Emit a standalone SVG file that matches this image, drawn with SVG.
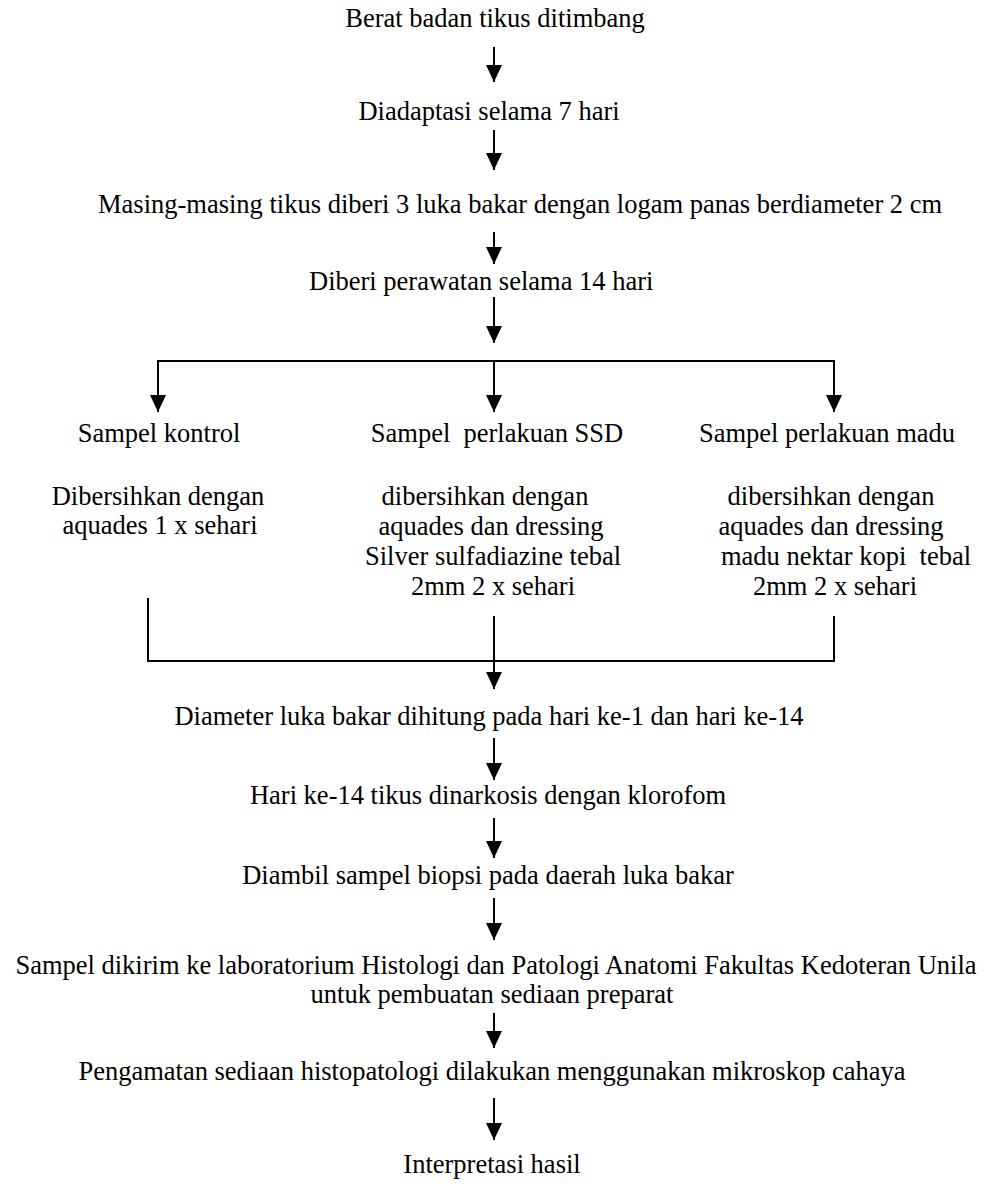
<svg xmlns="http://www.w3.org/2000/svg" width="987" height="1184" viewBox="0 0 987 1184">
<style>
text{font-family:"Liberation Serif","Times New Roman",serif;font-size:26.5px;fill:#000;text-anchor:middle}
.s{text-anchor:start}
.ln{stroke:#000;stroke-width:2;fill:none}
</style>
<defs>
<marker id="ah" markerUnits="userSpaceOnUse" viewBox="0 0 17 16" refX="17" refY="8" markerWidth="17" markerHeight="16" orient="auto">
<path d="M0,0 L17,8 L0,16 z" fill="#000"/>
</marker>
</defs>
<rect width="987" height="1184" fill="#fff"/>
<g id="n1"><text x="495" y="27">Berat badan tikus ditimbang</text></g>
<g id="n2"><text x="489" y="120">Diadaptasi selama 7 hari</text></g>
<g id="n3"><text class="s" x="98" y="213">Masing-masing tikus diberi 3 luka bakar dengan logam panas berdiameter 2 cm</text></g>
<g id="n4"><text class="s" x="309" y="290">Diberi perawatan selama 14 hari</text></g>
<g id="n5"><text x="159" y="442">Sampel kontrol</text><text x="158" y="505">Dibersihkan dengan</text><text x="160" y="534">aquades 1 x sehari</text></g>
<g id="n6"><text x="497" y="442">Sampel&#160; perlakuan SSD</text><text x="485" y="505">dibersihkan dengan</text><text x="491" y="535">aquades dan dressing</text><text x="493" y="565">Silver sulfadiazine tebal</text><text x="493" y="595">2mm 2 x sehari</text></g>
<g id="n7"><text x="827" y="442">Sampel perlakuan madu</text><text x="831" y="505">dibersihkan dengan</text><text x="831" y="535">aquades dan dressing</text><text x="846" y="565">madu nektar kopi&#160; tebal</text><text x="835" y="595">2mm 2 x sehari</text></g>
<g id="n8"><text x="489" y="725">Diameter luka bakar dihitung pada hari ke-1 dan hari ke-14</text></g>
<g id="n9"><text x="488" y="804">Hari ke-14 tikus dinarkosis dengan klorofom</text></g>
<g id="n10"><text x="488" y="884">Diambil sampel biopsi pada daerah luka bakar</text></g>
<g id="n11"><text x="496" y="974">Sampel dikirim ke laboratorium Histologi dan Patologi Anatomi Fakultas Kedoteran Unila</text><text x="492" y="1003">untuk pembuatan sediaan preparat</text></g>
<g id="n12"><text x="492" y="1080">Pengamatan sediaan histopatologi dilakukan menggunakan mikroskop cahaya</text></g>
<g id="n13"><text x="492" y="1173">Interpretasi hasil</text></g>
<g id="connectors">
<line class="ln" x1="494" y1="47" x2="494" y2="82" marker-end="url(#ah)"/>
<line class="ln" x1="494" y1="130" x2="494" y2="170" marker-end="url(#ah)"/>
<line class="ln" x1="494" y1="232" x2="494" y2="264" marker-end="url(#ah)"/>
<line class="ln" x1="494" y1="297" x2="494" y2="343" marker-end="url(#ah)"/>
<polyline class="ln" points="158,400 158,361 834,361 834,400"/>
<line class="ln" x1="158" y1="361" x2="158" y2="412" marker-end="url(#ah)"/>
<line class="ln" x1="494" y1="361" x2="494" y2="412" marker-end="url(#ah)"/>
<line class="ln" x1="834" y1="361" x2="834" y2="412" marker-end="url(#ah)"/>
<polyline class="ln" points="148,598 148,661 834,661 834,616"/>
<line class="ln" x1="494" y1="616" x2="494" y2="689" marker-end="url(#ah)"/>
<line class="ln" x1="494" y1="738" x2="494" y2="780" marker-end="url(#ah)"/>
<line class="ln" x1="494" y1="818" x2="494" y2="858" marker-end="url(#ah)"/>
<line class="ln" x1="494" y1="898" x2="494" y2="940" marker-end="url(#ah)"/>
<line class="ln" x1="494" y1="1013" x2="494" y2="1048" marker-end="url(#ah)"/>
<line class="ln" x1="494" y1="1098" x2="494" y2="1140" marker-end="url(#ah)"/>
</g>
</svg>
